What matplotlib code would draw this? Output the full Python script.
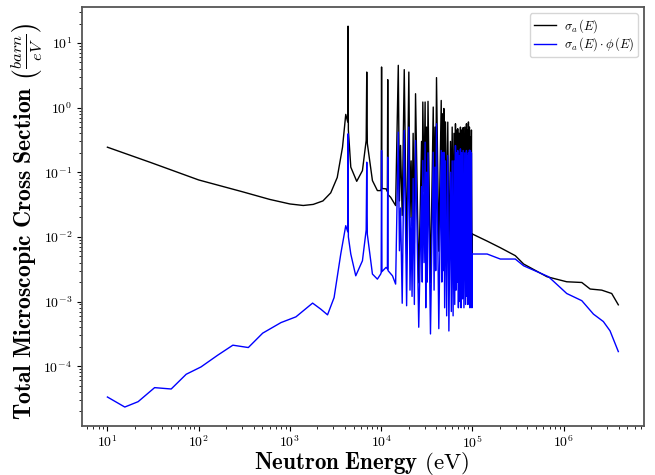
import numpy as np
import matplotlib
matplotlib.use("Agg")
import matplotlib.pyplot as plt

plt.rcParams["mathtext.fontset"] = "cm"
plt.rcParams["font.family"] = "serif"
plt.rcParams["font.serif"] = ["cmr10", "DejaVu Serif"]
plt.rcParams["axes.formatter.use_mathtext"] = True

# --- smooth part and first resonances (eV, barn/eV) ---
e_low_sigma = [10, 30, 100, 300, 600, 1000, 1400, 1800, 2300, 2800, 3300, 3770,
               4090, 4300, 4335, 4370, 4645, 5395, 6232, 6850, 6950, 7050, 8020, 9090, 9880,
               10000, 10100, 10200, 11300, 11700, 11800, 11900, 12700, 14400]
sigma_low = [0.244, 0.141, 0.076, 0.050, 0.038, 0.0323, 0.0306, 0.0318, 0.036, 0.048, 0.083, 0.244,
             0.785, 0.6, 18.2, 0.45, 0.12, 0.0724, 0.106, 0.31, 3.55, 0.28, 0.0743, 0.052, 0.052,
             0.056, 4.25, 0.056, 0.0554, 0.05, 2.71, 0.045, 0.041, 0.0305]

e_low_flux = [10, 15.5, 21.7, 32.9, 50, 73, 106, 162, 237, 350, 503, 798, 1164, 1772, 2183, 2583,
              3048, 3606, 4090, 4300, 4335, 4370, 4645, 5265, 6232, 6850, 6950, 7050, 8020, 9090, 9880,
              10000, 10100, 10200, 11300, 11700, 11800, 11900, 13300, 14400]
sigma_phi_low = [3.33e-5, 2.33e-5, 2.82e-5, 4.65e-5, 4.43e-5, 7.49e-5, 9.72e-5, 1.48e-4, 2.11e-4,
                 1.94e-4, 3.24e-4, 4.72e-4, 5.79e-4, 9.45e-4, 7.6e-4, 6.22e-4,
                 1.15e-3, 5.43e-3, 0.0149, 0.012, 0.393, 0.01, 5.43e-3, 2.5e-3, 4.27e-3, 0.0128, 0.143, 0.011,
                 2.66e-3, 2.22e-3, 2.66e-3,
                 2.8e-3, 0.217, 2.9e-3, 3.37e-3, 3.2e-3, 0.171, 3.0e-3, 2.5e-3, 1.86e-3]

# --- dense resonance region: peak tops, then the valley that follows each peak ---
res_e = [1.54e4, 1.63e4, 1.79e4, 2.01e4, 2.13e4, 2.24e4, 2.38e4, 2.77e4, 2.86e4, 3.03e4,
         3.14e4, 3.26e4, 3.72e4, 3.89e4, 4.04e4, 4.55e4, 4.70e4, 4.86e4, 5.07e4, 5.37e4,
         5.75e4, 6.00e4, 6.28e4, 6.52e4, 6.73e4, 6.90e4, 7.15e4, 7.39e4, 7.64e4, 7.91e4,
         8.24e4, 8.60e4, 8.82e4, 9.04e4, 9.27e4, 9.51e4, 9.75e4]
res_sigma = [4.51, 0.26, 3.87, 3.55, 0.15, 0.4, 1.64, 0.3, 1.22, 1.22,
             0.5, 1.25, 1.02, 0.5, 2.91, 1.29, 0.8, 0.97, 0.6, 0.596,
             0.3, 0.5, 0.4, 0.562, 0.45, 0.471, 0.4, 0.499, 0.45, 0.49,
             0.5, 0.562, 0.45, 0.6, 0.5, 0.349, 0.45]
res_sigma_phi = [0.417, 0.028, 0.443, 0.5, 0.02, 0.08, 0.31, 0.06, 0.152, 0.292,
                 0.1, 0.2, 0.204, 0.12, 0.562, 0.217, 0.2, 0.204, 0.15, 0.182,
                 0.1, 0.15, 0.15, 0.259, 0.2, 0.217, 0.18, 0.23, 0.2, 0.217,
                 0.2, 0.217, 0.18, 0.2, 0.22, 0.217, 0.2]

val_e = [1.585e4, 1.70e4, 1.90e4, 2.07e4, 2.18e4, 2.31e4, 2.58e4, 2.82e4, 2.95e4, 3.08e4,
         3.20e4, 3.47e4, 3.80e4, 3.96e4, 4.28e4, 4.62e4, 4.78e4, 4.96e4, 5.22e4, 5.52e4,
         5.87e4, 6.14e4, 6.40e4, 6.62e4, 6.81e4, 7.02e4, 7.27e4, 7.51e4, 7.77e4, 8.07e4,
         8.42e4, 8.71e4, 8.93e4, 9.15e4, 9.39e4, 9.63e4, 9.88e4]
val_sigma = [0.036, 0.0215, 5.4e-3, 0.02, 0.015, 8e-3, 1.95e-3, 0.03, 0.05, 0.012,
             0.03, 1.95e-3, 0.03, 0.04, 6e-3, 0.04, 0.05, 0.02, 0.015, 4.3e-3,
             0.02, 8.7e-3, 0.02, 0.03, 0.04, 0.02, 0.03, 0.02, 0.03, 0.015,
             0.03, 0.04, 0.03, 0.04, 0.03, 0.03, 5.5e-3]
val_sigma_phi = [6.1e-3, 9.4e-4, 8.6e-4, 1.5e-3, 1.2e-3, 9e-4, 4.0e-4, 2e-3, 4e-3, 8e-4,
                 2e-3, 3.15e-4, 1.5e-3, 3e-3, 3.8e-4, 2e-3, 3e-3, 8e-4, 6e-4, 3.5e-4,
                 7e-4, 6e-4, 9e-4, 1.5e-3, 2e-3, 8e-4, 1e-3, 8e-4, 1.1e-3, 8e-4,
                 9e-4, 1.2e-3, 9e-4, 1e-3, 8e-4, 9e-4, 8e-4]

# --- unresolved / fast region ---
e_high = [9.95e4, 1.45e5, 2.02e5, 2.95e5, 3.64e5, 6.55e5, 1.08e6, 1.58e6, 1.95e6, 2.61e6, 3.36e6, 3.97e6]
sigma_high = [0.0111, 8.6e-3, 6.8e-3, 5.12e-3, 3.80e-3, 2.42e-3, 2.02e-3, 1.97e-3, 1.56e-3, 1.50e-3,
              1.33e-3, 8.89e-4]
e_high_flux = [9.95e4, 1.45e5, 2.02e5, 2.95e5, 3.64e5, 6.82e5, 9.16e5, 1.08e6, 1.58e6, 2.12e6, 2.72e6,
               3.22e6, 3.97e6]
sigma_phi_high = [5.43e-3, 5.43e-3, 4.54e-3, 4.54e-3, 3.57e-3, 2.42e-3, 1.65e-3, 1.33e-3, 1.03e-3,
                  6.38e-4, 4.90e-4, 3.52e-4, 1.68e-4]

# interleave peaks and valleys of the dense region
dense_e, dense_s, dense_p = [], [], []
for i in range(len(res_e)):
    dense_e += [res_e[i], val_e[i]]
    dense_s += [res_sigma[i], val_sigma[i]]
    dense_p += [res_sigma_phi[i], val_sigma_phi[i]]

E_sigma = np.array(e_low_sigma + dense_e + e_high)
sigma = np.array(sigma_low + dense_s + sigma_high)
E_flux = np.array(e_low_flux + dense_e + e_high_flux)
sigma_phi = np.array(sigma_phi_low + dense_p + sigma_phi_high)

fig, ax = plt.subplots(figsize=(6.55, 4.75), dpi=100)
fig.subplots_adjust(left=0.125, right=0.983, top=0.985, bottom=0.103)

ax.loglog(E_sigma, sigma, color="black", lw=1.0, label=r"$\sigma_a\,(E)$")
ax.loglog(E_flux, sigma_phi, color="blue", lw=1.0,
          label=r"$\sigma_a\,(E)\cdot\phi\,(E)$")

ax.set_xlabel(r"$\mathbf{Neutron\ Energy}$ $\mathrm{(eV)}$", fontsize=16.5)
ax.set_ylabel(r"$\mathbf{Total\ Microscopic\ Cross\ Section}$ $\left(\frac{barn}{eV}\right)$", fontsize=17)
ax.xaxis.set_label_coords(0.498, -0.056)
ax.yaxis.set_label_coords(-0.065, 0.489)
ax.tick_params(axis="x", which="major", pad=2.5)
ax.legend(loc="upper right", fontsize=9, labelspacing=0.05, borderpad=0.3,
          handlelength=1.8, handletextpad=0.6)

for s in ax.spines.values():
    s.set_color("#555555")
    s.set_linewidth(1.3)

fig.savefig("out.png", dpi=100)
